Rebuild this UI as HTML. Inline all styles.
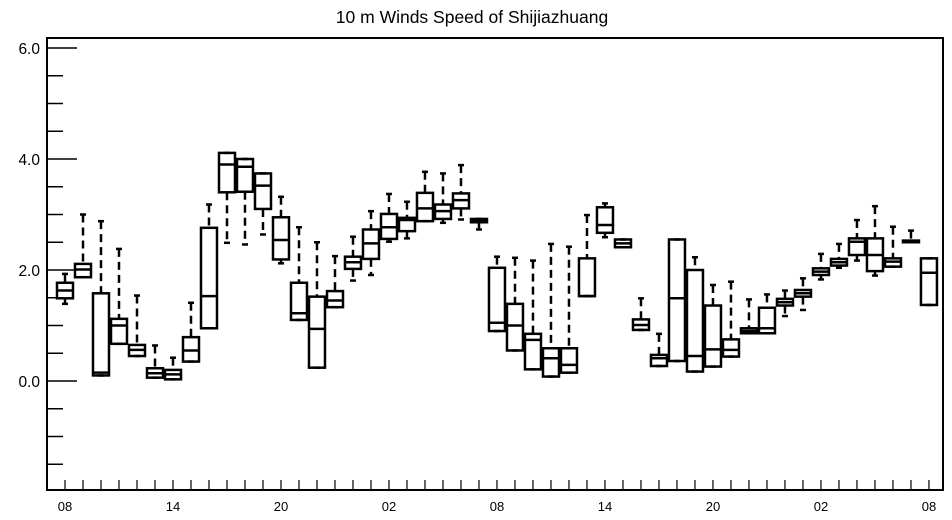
<!DOCTYPE html>
<html><head><meta charset="utf-8"><style>
body{margin:0;background:#fff}
svg{display:block}
text{font-family:"Liberation Sans",sans-serif;fill:#000}
</style></head><body>
<svg id="chart" width="952" height="520">
<text x="472" y="23" text-anchor="middle" font-size="17.5">10 m Winds Speed of Shijiazhuang</text>
<rect x="47" y="38" width="896" height="452" fill="none" stroke="#000" stroke-width="2"/>
<g id="axes"></g><g id="boxes"></g>
</svg>
<script>
const categories=["08","09","10","11","12","13","14","15","16","17","18","19","20","21","22","23","00","01","02","03","04","05","06","07","08","09","10","11","12","13","14","15","16","17","18","19","20","21","22","23","00","01","02","03","04","05","06","07","08"];
const mins=[1.39,1.87,0.10,0.67,0.45,0.06,0.03,0.35,0.95,2.49,2.46,2.64,2.12,1.10,0.24,1.33,1.81,1.91,2.51,2.57,2.88,2.85,2.91,2.73,0.90,0.55,0.21,0.08,0.15,1.53,2.59,2.41,0.92,0.27,0.36,0.17,0.26,0.44,0.86,0.86,1.17,1.28,1.83,2.04,2.17,1.90,2.06,2.50,1.37];
const q1s=[1.49,1.87,0.10,0.67,0.45,0.06,0.03,0.35,0.95,3.40,3.41,3.10,2.19,1.10,0.24,1.33,2.02,2.20,2.56,2.70,2.88,2.92,3.11,2.86,0.90,0.55,0.21,0.08,0.15,1.53,2.67,2.41,0.92,0.27,0.36,0.17,0.26,0.44,0.86,0.86,1.36,1.52,1.91,2.08,2.27,1.98,2.06,2.50,1.37];
const medians=[1.63,2.01,0.15,1.00,0.56,0.14,0.12,0.55,1.53,3.90,3.86,3.52,2.54,1.22,0.94,1.45,2.14,2.48,2.77,2.90,3.11,3.06,3.26,2.89,1.05,1.00,0.74,0.41,0.29,1.53,2.81,2.48,1.01,0.41,1.49,0.45,0.57,0.56,0.90,0.95,1.42,1.58,1.97,2.14,2.51,2.27,2.15,2.52,1.95];
const q3s=[1.77,2.11,1.58,1.12,0.65,0.23,0.20,0.79,2.76,4.11,4.00,3.74,2.95,1.77,1.52,1.62,2.24,2.73,3.01,2.94,3.39,3.18,3.38,2.92,2.04,1.39,0.85,0.59,0.59,2.21,3.13,2.55,1.11,0.47,2.55,2.00,1.36,0.75,0.95,1.32,1.48,1.64,2.03,2.20,2.57,2.57,2.21,2.53,2.21];
const maxs=[1.93,3.00,2.88,2.38,1.54,0.64,0.42,1.41,3.18,4.11,4.00,3.74,3.32,2.77,2.50,2.25,2.60,3.06,3.37,3.23,3.77,3.74,3.89,2.92,2.24,2.22,2.17,2.47,2.42,2.99,3.20,2.55,1.49,0.85,2.55,2.23,1.73,1.79,1.47,1.56,1.63,1.85,2.29,2.47,2.90,3.15,2.78,2.71,2.21];
const yTicks=[0,2,4,6];
const yTickLabels=["0.0","2.0","4.0","6.0"];
const xLabelIdx=[0,6,12,18,24,30,36,42,48];

const NS="http://www.w3.org/2000/svg";
const X0=47,X1=943,Y0=490,Y1=38;
function x(i){return X0+(i+1)/(49.78)*(X1-X0);}
function y(v){return 381-(v)*55.5;}
function mk(tag,attrs,parent){const e=document.createElementNS(NS,tag);for(const k in attrs)e.setAttribute(k,attrs[k]);parent.appendChild(e);return e;}
const ax=document.getElementById('axes'),bx=document.getElementById('boxes');
for(let v=-1.5;v<=6.2;v+=0.5){
  const major=Math.abs(v-Math.round(v/2)*2)<1e-6;
  const t=mk('line',{x1:X0,x2:X0+(major?30:16),y1:y(v),y2:y(v),stroke:'#000','stroke-width':1.5},ax);
  
  
}
yTicks.forEach((v,k)=>{
  const t=mk('text',{x:40,y:y(v)+6,'text-anchor':'end','font-size':15.5},ax);
  t.textContent=yTickLabels[k];
  
  
});
categories.forEach((c,i)=>{
  const t=mk('line',{x1:x(i),x2:x(i),y1:Y0,y2:Y0-10,stroke:'#000','stroke-width':1.2},ax);
  
  
});
xLabelIdx.forEach(i=>{
  const t=mk('text',{x:x(i),y:511,'text-anchor':'middle','font-size':13},ax);
  t.textContent=categories[i];
  
  
});
categories.forEach((c,i)=>{
  const g=mk('g',{},bx);
  
  
  const cx=x(i),w=8;
  mk('line',{x1:cx,x2:cx,y1:y(maxs[i]),y2:y(q3s[i]),stroke:'#000','stroke-width':2.5,'stroke-dasharray':'8,5'},g);
  mk('line',{x1:cx,x2:cx,y1:y(q1s[i]),y2:y(mins[i]),stroke:'#000','stroke-width':2.5,'stroke-dasharray':'8,5'},g);
  mk('line',{x1:cx-3,x2:cx+3,y1:y(maxs[i]),y2:y(maxs[i]),stroke:'#000','stroke-width':2.5},g);
  mk('line',{x1:cx-3,x2:cx+3,y1:y(mins[i]),y2:y(mins[i]),stroke:'#000','stroke-width':2.5},g);
  mk('rect',{x:cx-w,y:y(q3s[i]),width:2*w,height:Math.max(1,y(q1s[i])-y(q3s[i])),fill:'none',stroke:'#000','stroke-width':2.5},g);
  mk('line',{x1:cx-w,x2:cx+w,y1:y(medians[i]),y2:y(medians[i]),stroke:'#000','stroke-width':2.5},g);
});
</script>
</body></html>
